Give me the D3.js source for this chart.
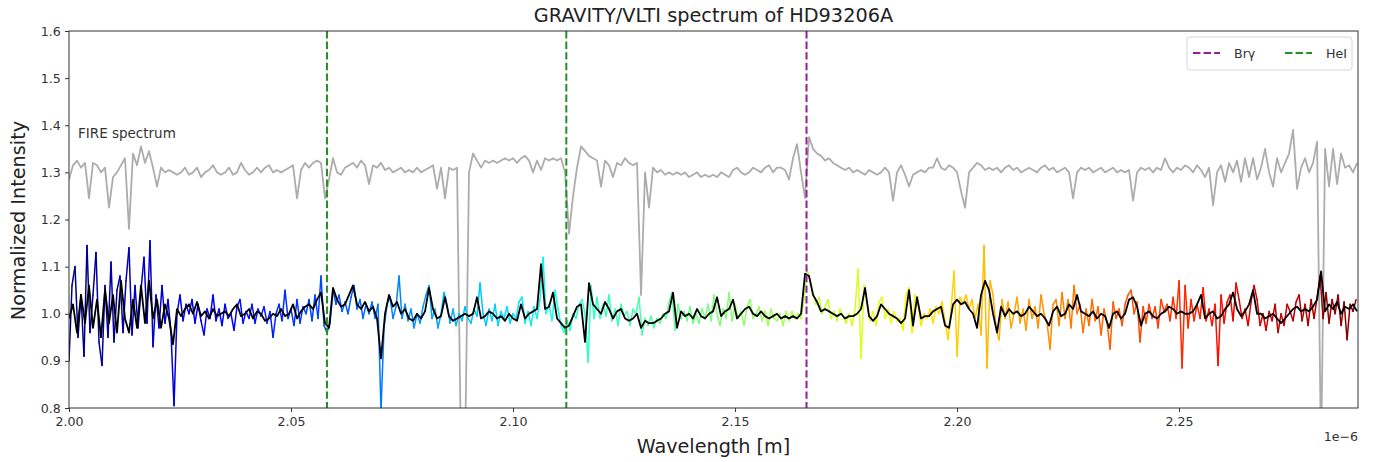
<!DOCTYPE html>
<html><head><meta charset="utf-8">
<script src="https://cdn.jsdelivr.net/npm/d3@7"></script>
<style>
body{margin:0;background:#fff}
svg{display:block;font-family:"DejaVu Sans",sans-serif}
</style>
</head><body>
<svg id="chart" width="1382" height="462"></svg>
<script>
// ---------- DATA (wavelength in micron, x-axis shown with 1e-6 offset) ----------
const titleText = "GRAVITY/VLTI spectrum of HD93206A";
const xTickValues = [2.00, 2.05, 2.10, 2.15, 2.20, 2.25];
const yTickValues = [0.8, 0.9, 1.0, 1.1, 1.2, 1.3, 1.4, 1.5, 1.6];
const xDomain = [2.0, 2.2903];
const yDomain = [0.8, 1.6];

// spectral line markers
const lineNames = ["HeI", "HeI", "Brγ"];
const lineWavelengths = [2.0581, 2.1120, 2.1661];
const legendNames = ["Brγ", "HeI"];

// FIRE spectrum (offset by +0.3), sampled on a uniform grid
const fireStart = 2.0, fireStep = 0.0009009;
const fireFlux = [
1.285,1.315,1.325,1.31,1.32,1.245,1.32,1.315,1.30,1.31,
1.225,1.29,1.30,1.315,1.33,1.18,1.34,1.315,1.355,1.32,
1.345,1.31,1.27,1.31,1.30,1.305,1.30,1.295,1.30,1.31,
1.295,1.30,1.31,1.29,1.30,1.305,1.315,1.30,1.295,1.30,
1.31,1.295,1.30,1.32,1.305,1.295,1.30,1.31,1.30,1.31,
1.315,1.30,1.305,1.30,1.305,1.31,1.315,1.245,1.305,1.32,
1.31,1.32,1.325,1.32,1.245,1.285,1.33,1.30,1.295,1.31,
1.315,1.32,1.31,1.325,1.315,1.275,1.315,1.31,1.32,1.305,
1.31,1.30,1.305,1.31,1.30,1.305,1.30,1.31,1.30,1.305,
1.31,1.315,1.265,1.31,1.245,1.31,1.305,1.31,0.70,0.70,
1.30,1.34,1.325,1.31,1.325,1.32,1.325,1.32,1.325,1.33,
1.325,1.33,1.32,1.33,1.335,1.325,1.30,1.325,1.305,1.33,
1.325,1.33,1.325,1.33,1.30,1.17,1.25,1.31,1.355,1.345,
1.335,1.33,1.325,1.27,1.325,1.315,1.29,1.32,1.315,1.33,
1.32,1.315,1.32,1.04,1.30,1.225,1.31,1.30,1.305,1.295,
1.30,1.295,1.30,1.295,1.30,1.29,1.295,1.30,1.29,1.295,
1.29,1.295,1.29,1.30,1.295,1.29,1.305,1.31,1.30,1.295,
1.30,1.31,1.305,1.30,1.31,1.315,1.30,1.31,1.31,1.305,
1.285,1.33,1.36,1.30,1.245,1.375,1.35,1.34,1.335,1.325,
1.33,1.32,1.315,1.31,1.305,1.31,1.30,1.305,1.30,1.295,
1.305,1.30,1.295,1.30,1.31,1.30,1.24,1.30,1.315,1.295,
1.27,1.295,1.30,1.305,1.30,1.31,1.31,1.33,1.31,1.305,
1.315,1.31,1.30,1.26,1.225,1.30,1.31,1.32,1.315,1.305,
1.31,1.305,1.31,1.30,1.31,1.315,1.305,1.31,1.30,1.305,
1.31,1.305,1.30,1.31,1.315,1.305,1.31,1.30,1.305,1.31,
1.30,1.245,1.30,1.31,1.305,1.31,1.30,1.305,1.31,1.30,
1.305,1.31,1.30,1.305,1.30,1.305,1.24,1.30,1.31,1.305,
1.31,1.30,1.31,1.305,1.33,1.31,1.30,1.31,1.305,1.315,
1.31,1.30,1.315,1.305,1.29,1.31,1.23,1.30,1.315,1.28,
1.32,1.30,1.325,1.28,1.33,1.29,1.33,1.285,1.31,1.35,
1.30,1.27,1.33,1.30,1.32,1.34,1.39,1.265,1.31,1.33,
1.30,1.32,1.365,0.70,1.35,1.27,1.35,1.275,1.34,1.31,
1.315,1.30,1.32
];

// GRAVITY spectrum, full resolution
const gravStart = 2.0, gravStep = 0.00067568;
const gravFlux = [
0.90,1.06,1.10,0.95,1.04,0.91,1.145,0.96,1.04,1.13,
0.94,0.89,1.06,0.95,1.11,0.94,1.05,1.08,0.96,1.07,
1.14,0.955,1.06,0.97,1.05,1.12,0.98,1.155,0.93,1.04,
0.97,1.06,0.98,1.03,0.96,0.805,1.00,1.04,0.985,1.02,
1.00,1.03,0.98,1.02,0.985,0.955,1.01,0.99,1.04,0.985,
1.01,0.975,1.02,0.99,1.00,0.965,1.015,1.03,0.98,1.005,
0.99,1.02,0.98,1.01,0.995,1.015,0.98,1.005,0.95,1.00,
1.02,0.985,1.05,0.99,1.01,0.975,1.03,0.98,1.015,1.00,
1.03,0.985,1.04,0.99,1.08,0.975,0.96,0.98,1.05,1.02,
1.04,1.005,1.025,1.00,1.035,1.06,1.01,1.03,0.99,1.02,
1.00,1.025,0.99,1.02,0.795,0.97,1.02,1.035,0.99,1.015,
1.08,0.99,1.02,0.985,1.01,0.97,1.00,0.98,1.015,1.04,
1.06,0.99,1.01,0.97,1.00,1.045,1.02,0.98,1.01,0.975,
1.00,0.985,1.015,0.99,0.98,1.01,0.995,1.065,1.00,0.975,
1.01,0.985,1.02,0.975,1.005,0.99,1.015,0.98,1.00,0.99,
1.025,1.035,0.98,1.005,0.975,1.015,0.99,1.03,1.12,1.00,
1.02,0.985,1.05,1.01,0.975,0.96,0.985,0.965,1.00,0.99,
1.02,1.03,1.00,0.897,1.06,0.99,1.035,0.99,1.02,0.995,
1.04,0.985,1.01,0.975,1.02,0.995,1.005,0.975,1.01,1.00,
1.035,0.955,0.99,0.975,0.995,0.97,0.99,0.98,1.00,0.99,
1.025,1.045,0.965,1.02,0.99,1.005,0.985,1.015,0.98,1.00,
0.98,1.01,0.99,1.02,0.985,1.04,1.00,0.975,1.01,0.99,
1.045,0.985,1.02,0.99,1.005,0.975,1.015,1.03,0.99,1.00,
1.015,0.985,1.005,0.975,1.01,0.99,0.985,1.00,0.975,1.005,
0.985,1.005,0.99,1.00,0.99,1.03,1.095,1.07,1.045,1.02,
1.035,1.00,1.015,1.03,0.99,1.005,0.985,1.01,0.995,0.98,
1.00,0.975,1.01,1.095,0.905,1.06,1.02,0.985,1.005,0.975,
1.025,1.035,0.99,1.01,0.98,1.005,0.985,0.99,0.965,1.04,
1.055,0.96,1.04,1.02,0.975,1.00,0.99,1.01,0.98,1.015,
1.00,1.025,0.985,0.945,1.01,1.09,0.91,1.035,1.02,1.04,
1.01,1.03,0.99,1.02,0.955,1.145,0.885,1.07,1.04,0.97,
0.945,1.03,0.99,1.025,0.97,1.00,1.035,0.98,1.01,0.965,
1.03,0.99,1.015,0.97,1.04,1.00,0.98,0.925,1.02,1.03,
0.975,1.045,0.99,1.03,0.97,1.06,1.00,1.02,0.96,1.01,
0.975,1.03,0.985,1.015,0.955,1.01,0.98,0.925,1.025,0.99,
1.01,0.975,1.02,1.04,1.05,1.00,1.025,0.94,1.015,0.98,
1.02,0.99,1.015,0.97,1.03,1.005,1.02,0.985,1.035,0.99,
1.07,0.885,1.06,0.97,1.03,0.985,1.02,0.99,1.055,0.985,
1.01,0.975,1.02,0.89,1.04,0.98,1.025,1.04,0.985,1.065,
1.03,0.99,1.01,0.975,1.025,1.06,1.03,0.975,1.00,0.965,
1.005,0.985,1.02,0.96,1.00,0.975,1.02,1.005,0.985,1.025,
1.04,0.985,1.02,0.975,1.03,0.99,1.035,1.08,0.99,1.045,
0.98,1.03,1.00,1.04,0.975,1.025,0.945,1.02,1.005,1.03
];

// GRAVITY spectrum, smoothed
const smoothStart = 2.0, smoothStep = 0.0009009;
const gravSmooth = [
0.99,1.02,0.96,1.04,0.98,1.06,0.97,1.03,0.95,1.05,
0.98,1.04,0.96,1.07,0.99,0.96,1.03,0.97,1.06,0.98,
1.07,0.99,1.03,0.97,1.02,0.99,0.935,1.01,0.995,1.01,
1.02,1.00,1.025,0.995,1.005,0.99,1.01,0.995,1.00,1.005,
0.995,1.01,1.02,0.995,1.00,1.01,0.99,1.005,1.00,0.985,
0.99,1.00,0.995,1.01,0.995,1.00,1.02,0.99,1.005,1.015,
1.02,1.01,1.03,1.045,0.98,0.97,1.055,1.03,1.015,1.02,
1.04,1.06,1.02,1.01,1.025,1.005,1.015,0.99,0.905,1.00,
1.04,1.015,1.025,1.00,1.01,0.99,0.985,1.00,0.99,1.005,
1.055,1.01,0.99,0.995,1.035,0.995,0.985,0.99,0.995,1.00,
0.995,1.00,1.035,0.99,0.995,1.005,1.00,0.99,0.995,0.985,
1.00,0.99,0.985,1.02,0.99,1.00,1.005,1.01,1.105,1.01,
1.015,1.045,0.99,0.98,0.97,0.975,0.995,1.015,1.02,0.94,
1.065,1.02,1.01,1.00,1.025,1.01,0.99,1.005,1.01,0.99,
0.985,0.99,1.00,0.97,0.985,0.98,0.98,0.985,0.99,1.00,
1.005,1.045,0.97,1.005,0.995,1.00,0.99,1.01,0.995,0.99,
1.00,1.005,1.035,0.995,1.005,1.01,1.03,0.99,1.00,1.01,
1.015,1.00,0.995,1.005,0.995,0.99,0.995,1.00,0.99,0.995,
0.99,0.995,0.99,1.00,1.085,1.08,1.04,1.025,1.005,1.01,
1.005,1.00,0.995,1.00,0.99,0.995,0.995,1.00,1.01,1.055,
0.995,0.985,0.995,1.02,1.01,1.00,0.995,0.99,0.98,0.99,
1.05,0.975,1.035,0.99,0.995,0.995,1.005,1.01,1.015,0.975,
0.97,1.02,1.03,1.02,1.025,1.01,1.00,0.97,1.04,1.07,
1.05,1.00,0.96,1.015,0.995,1.01,1.00,1.005,0.995,1.00,
1.015,1.005,0.995,1.00,0.99,0.975,1.005,1.015,0.995,1.00,
1.02,1.01,1.04,1.005,1.00,0.995,1.005,0.99,1.00,0.995,
0.97,1.00,1.005,0.99,1.00,1.03,1.035,1.015,0.975,1.00,
1.005,0.995,0.99,1.00,1.005,1.015,1.01,1.00,1.005,1.00,
1.00,1.005,1.02,1.04,0.99,1.00,1.005,0.99,0.995,1.01,
1.02,1.045,1.01,0.995,1.005,1.02,1.05,1.00,1.00,0.99,
0.995,1.00,0.99,0.98,0.99,1.00,1.01,1.015,1.005,1.01,
1.005,1.015,1.03,1.09,1.005,1.02,1.01,1.025,1.00,1.015,
1.01,1.02,1.005
];

// ---------- DRAWING ----------
const svg = d3.select("#chart");
const m = {left: 69, right: 1358, top: 31, bottom: 408};

const x = d3.scaleLinear().domain(xDomain).range([m.left, m.right]);
const y = d3.scaleLinear().domain(yDomain).range([m.bottom, m.top]);

// jet colormap (matplotlib segment data)
const jetR = d3.scaleLinear().domain([0, 0.35, 0.66, 0.89, 1]).range([0, 0, 1, 1, 0.5]).clamp(true);
const jetG = d3.scaleLinear().domain([0, 0.125, 0.375, 0.64, 0.91, 1]).range([0, 0, 1, 1, 0, 0]).clamp(true);
const jetB = d3.scaleLinear().domain([0, 0.11, 0.34, 0.65, 1]).range([0.5, 1, 1, 0, 0]).clamp(true);
const gravEnd = gravStart + (gravFlux.length - 1) * gravStep;
const tScale = d3.scaleLinear().domain([gravStart, gravEnd]).range([0, 1]);
const jet = w => { const t = tScale(w); return d3.rgb(jetR(t)*255, jetG(t)*255, jetB(t)*255).toString(); };

const fireData = fireFlux.map((v, i) => ({w: fireStart + i * fireStep, v}));
const gravData = gravFlux.map((v, i) => ({w: gravStart + i * gravStep, v}));
const smoothData = gravSmooth.map((v, i) => ({w: smoothStart + i * smoothStep, v}));

svg.append("defs").append("clipPath").attr("id", "clip")
  .append("rect").attr("x", m.left).attr("y", m.top)
  .attr("width", m.right - m.left).attr("height", m.bottom - m.top);

const plot = svg.append("g").attr("clip-path", "url(#clip)");
const line = d3.line().x(d => x(d.w)).y(d => y(d.v));

// FIRE spectrum
plot.append("path").datum(fireData).attr("d", line)
  .attr("fill", "none").attr("stroke", "#acacac").attr("stroke-width", 1.8)
  .attr("stroke-linejoin", "round");

// coloured GRAVITY spectrum
const segs = d3.pairs(gravData);
plot.append("g").selectAll("line").data(segs).join("line")
  .attr("x1", d => x(d[0].w)).attr("y1", d => y(d[0].v))
  .attr("x2", d => x(d[1].w)).attr("y2", d => y(d[1].v))
  .attr("stroke", d => jet((d[0].w + d[1].w) / 2))
  .attr("stroke-width", 1.5).attr("stroke-linecap", "round");

// smoothed
plot.append("path").datum(smoothData).attr("d", line)
  .attr("fill", "none").attr("stroke", "#000").attr("stroke-width", 1.8)
  .attr("stroke-linejoin", "round");

// vertical line markers
const markerColor = n => n === "Brγ" ? "#941f94" : "#219121";
plot.append("g").selectAll("line").data(lineWavelengths).join("line")
  .attr("x1", d => x(d)).attr("x2", d => x(d))
  .attr("y1", m.top).attr("y2", m.bottom)
  .attr("stroke", (d, i) => markerColor(lineNames[i]))
  .attr("stroke-width", 2).attr("stroke-dasharray", "7.4,3.2");

// frame
svg.append("rect").attr("x", m.left).attr("y", m.top)
  .attr("width", m.right - m.left).attr("height", m.bottom - m.top)
  .attr("fill", "none").attr("stroke", "#333").attr("stroke-width", 1);

// axes
const xAxis = svg.append("g").attr("transform", `translate(0,${m.bottom})`)
  .call(d3.axisBottom(x).tickValues(xTickValues).tickFormat(d3.format(".2f")).tickSize(4).tickSizeOuter(0));
const yAxis = svg.append("g").attr("transform", `translate(${m.left},0)`)
  .call(d3.axisLeft(y).tickValues(yTickValues).tickFormat(d3.format(".1f")).tickSize(4).tickSizeOuter(0));
[xAxis, yAxis].forEach(a => {
  a.select(".domain").remove();
  a.selectAll(".tick line").attr("stroke", "#333");
  a.selectAll(".tick text").attr("fill", "#333").style("font-size", "12.6px")
   .style("font-family", '"DejaVu Sans",sans-serif');
});
xAxis.selectAll(".tick text").attr("dy", "0.9em");
yAxis.selectAll(".tick text").attr("dx", "-0.1em");

// labels
svg.append("text").attr("x", (m.left + m.right) / 2).attr("y", 22)
  .attr("text-anchor", "middle").attr("fill", "#222").style("font-size", "19.3px").text(titleText);
svg.append("text").attr("x", (m.left + m.right) / 2).attr("y", 453)
  .attr("text-anchor", "middle").attr("fill", "#222").style("font-size", "19.2px").text("Wavelength [m]");
svg.append("text").attr("transform", `translate(25,${(m.top + m.bottom) / 2 + 1}) rotate(-90)`)
  .attr("text-anchor", "middle").attr("fill", "#222").style("font-size", "19.3px").text("Normalized Intensity");
svg.append("text").attr("x", m.right).attr("y", 441)
  .attr("text-anchor", "end").attr("fill", "#333").style("font-size", "12.6px").text("1e−6");
svg.append("text").attr("x", 78).attr("y", 138)
  .attr("fill", "#333").style("font-size", "13.5px").text("FIRE spectrum");

// legend
const lg = svg.append("g").attr("transform", "translate(1187,37)");
lg.append("rect").attr("width", 165).attr("height", 33).attr("rx", 3)
  .attr("fill", "#fff").attr("fill-opacity", 0.8).attr("stroke", "#d6d6d6");
const li = lg.selectAll("g.item").data(legendNames).join("g").attr("class", "item")
  .attr("transform", (d, i) => `translate(${6 + i * 92},16)`);
li.append("line").attr("x1", 0).attr("x2", 27).attr("y1", 0).attr("y2", 0)
  .attr("stroke", d => markerColor(d)).attr("stroke-width", 2).attr("stroke-dasharray", "7.4,3.2");
li.append("text").attr("x", 41).attr("y", 4.5).attr("fill", "#333").style("font-size", "12.6px").text(d => d);
</script>
</body></html>
